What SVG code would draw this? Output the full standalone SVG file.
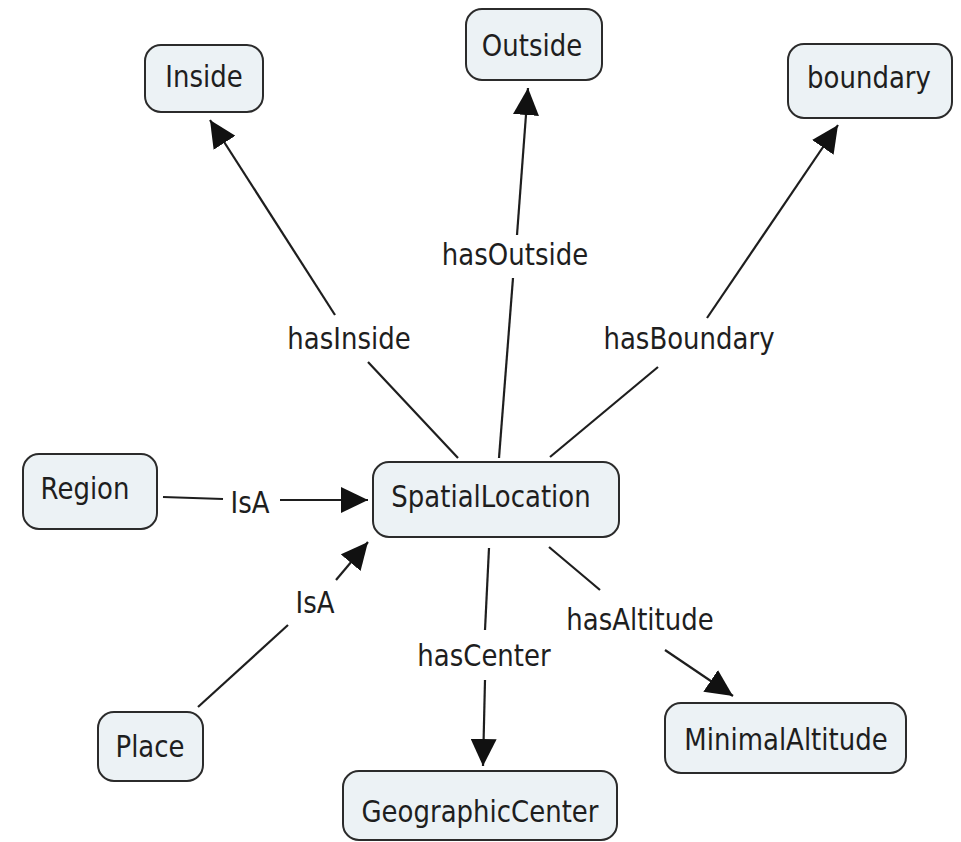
<svg xmlns="http://www.w3.org/2000/svg" width="961" height="842" viewBox="0 0 961 842">
  <defs>
    <marker id="arrow" viewBox="0 0 27 26" refX="27" refY="13" markerWidth="27" markerHeight="26" markerUnits="userSpaceOnUse" orient="auto">
      <path d="M0,0 L27,13 L0,26 z" fill="#111"/>
    </marker>
    <style>
      .node rect { fill: #ecf2f5; stroke: #2b2b2b; stroke-width: 2; }
      text { font-family: "DejaVu Sans", Verdana, sans-serif; font-size: 26px; fill: #1e1e1e; text-anchor: middle; }
      .edge line { stroke: #1e1e1e; stroke-width: 2.2; fill: none; }
      .edge line.head { marker-end: url(#arrow); }
    </style>
  </defs>

  <rect width="961" height="842" fill="#ffffff"/>

  <!-- connectors: each link is split around its label -->
  <g id="connectors">
    <g class="edge" id="e-hasInside">
      <line x1="458" y1="458" x2="368" y2="362"/>
      <line class="head" x1="335" y1="315" x2="210" y2="120"/>
      <text transform="translate(349,349) scale(1,1.18)">hasInside</text>
    </g>
    <g class="edge" id="e-hasOutside">
      <line x1="499" y1="458" x2="513" y2="278"/>
      <line class="head" x1="517" y1="235" x2="528" y2="88"/>
      <text transform="translate(515,265) scale(1,1.18)">hasOutside</text>
    </g>
    <g class="edge" id="e-hasBoundary">
      <line x1="550" y1="457" x2="658" y2="367"/>
      <line class="head" x1="707" y1="318" x2="838" y2="125"/>
      <text transform="translate(689,349) scale(1,1.18)">hasBoundary</text>
    </g>
    <g class="edge" id="e-region-isa">
      <line x1="163" y1="497" x2="223" y2="499"/>
      <line class="head" x1="280" y1="500" x2="368" y2="500"/>
      <text transform="translate(250,513) scale(1,1.18)">IsA</text>
    </g>
    <g class="edge" id="e-place-isa">
      <line x1="198" y1="707" x2="288" y2="625"/>
      <line class="head" x1="336" y1="580" x2="368" y2="542"/>
      <text transform="translate(315,613) scale(1,1.18)">IsA</text>
    </g>
    <g class="edge" id="e-hasCenter">
      <line x1="489" y1="548" x2="485" y2="630"/>
      <line class="head" x1="485" y1="680" x2="483" y2="766"/>
      <text transform="translate(484,666) scale(1,1.18)">hasCenter</text>
    </g>
    <g class="edge" id="e-hasAltitude">
      <line x1="549" y1="547" x2="600" y2="590"/>
      <line class="head" x1="665" y1="650" x2="733" y2="696"/>
      <text transform="translate(640,630) scale(1,1.18)">hasAltitude</text>
    </g>
  </g>

  <!-- concepts -->
  <g class="node" id="n-inside">
    <rect x="145" y="45" width="118" height="67" rx="16"/>
    <text transform="translate(204,87) scale(1,1.18)">Inside</text>
  </g>
  <g class="node" id="n-outside">
    <rect x="466" y="9" width="136" height="71" rx="16"/>
    <text transform="translate(532,56) scale(1,1.18)">Outside</text>
  </g>
  <g class="node" id="n-boundary">
    <rect x="788" y="44" width="164" height="74" rx="16"/>
    <text transform="translate(869,88) scale(1,1.18)">boundary</text>
  </g>
  <g class="node" id="n-region">
    <rect x="23" y="454" width="134" height="75" rx="16"/>
    <text transform="translate(85,499) scale(1,1.18)">Region</text>
  </g>
  <g class="node" id="n-spatiallocation">
    <rect x="373" y="462" width="246" height="75" rx="16"/>
    <text transform="translate(491,507) scale(1,1.18)">SpatialLocation</text>
  </g>
  <g class="node" id="n-place">
    <rect x="98" y="712" width="105" height="69" rx="16"/>
    <text transform="translate(150,757) scale(1,1.18)">Place</text>
  </g>
  <g class="node" id="n-geographiccenter">
    <rect x="343" y="771" width="274" height="69" rx="16"/>
    <text transform="translate(480,822) scale(1,1.18)">GeographicCenter</text>
  </g>
  <g class="node" id="n-minimalaltitude">
    <rect x="665" y="703" width="241" height="70" rx="16"/>
    <text transform="translate(786,750) scale(1,1.18)">MinimalAltitude</text>
  </g>
</svg>
